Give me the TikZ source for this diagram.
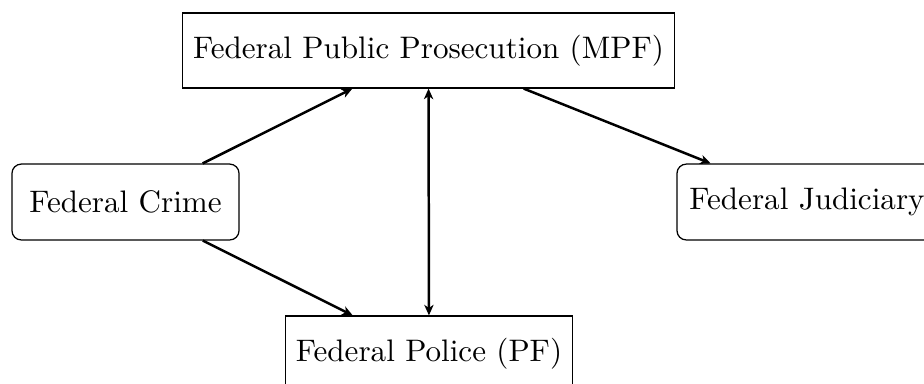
\documentclass[tikz,border=0pt]{standalone}
\usetikzlibrary{arrows.meta}
\begin{document}
\begin{tikzpicture}[x=0.3215pt,y=-0.3215pt,
  >={Stealth[length=3.4pt,width=3pt,inset=1pt]},
  sqbox/.style={draw,rectangle,minimum height=24.1pt,inner xsep=3.33pt},
  rbox/.style={draw,rectangle,rounded corners=3pt,minimum height=24.4pt},
  conn/.style={thick,->}]
\useasboundingbox (0,0) rectangle (924,383);
\node[sqbox] (mpf) at (428.5,50.5) {Federal Public Prosecution (MPF)};
\node[rbox,minimum width=73pt] (crime) at (125.5,202) {Federal Crime};
\node[rbox,minimum width=83.6pt] (jud) at (807,202) {Federal Judiciary};
\node[sqbox] (pf) at (429,353.5) {Federal Police (PF)};
\draw[conn] (crime) -- (mpf);
\draw[conn] (crime) -- (pf);
\draw[conn] (mpf) -- (jud);
\draw[thick,<->] (mpf) -- (pf);
\end{tikzpicture}
\end{document}
